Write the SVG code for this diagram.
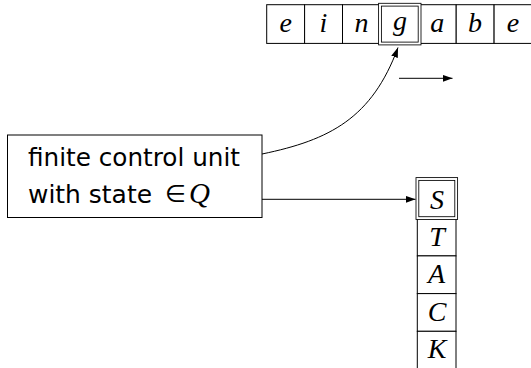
<svg xmlns="http://www.w3.org/2000/svg" width="531" height="368" viewBox="0 0 531 368">
<style>
.cell{fill:#fff;stroke:#000;stroke-width:1}
.dbl{fill:none;stroke:#000;stroke-width:0.85}
.sym{font-family:"Liberation Serif","DejaVu Serif",serif;font-style:italic;font-size:28px;text-anchor:middle;fill:#000}
.lbl{font-family:"DejaVu Sans","Liberation Sans",sans-serif;font-size:24px;fill:#000}
.conn{fill:none;stroke:#000;stroke-width:1}
</style>
<defs>
<marker id="arr" markerUnits="userSpaceOnUse" markerWidth="12" markerHeight="10" refX="10" refY="3.5" orient="auto">
<path d="M0,0 L10,3.5 L0,7 Z" fill="#000"/>
</marker>
</defs>
<rect width="531" height="368" fill="#fff"/>
<g id="tape">
<g id="tape-e1"><rect class="cell" x="266.7" y="4.7" width="37.9" height="38.7"/><text class="sym" x="285.6" y="32">e</text></g>
<g id="tape-i"><rect class="cell" x="304.6" y="4.7" width="37.9" height="38.7"/><text class="sym" x="323.5" y="32">i</text></g>
<g id="tape-n"><rect class="cell" x="342.5" y="4.7" width="37.9" height="38.7"/><text class="sym" x="361.4" y="32">n</text></g>
<g id="tape-a"><rect class="cell" x="418.3" y="4.7" width="37.9" height="38.7"/><text class="sym" x="437.2" y="32">a</text></g>
<g id="tape-b"><rect class="cell" x="456.2" y="4.7" width="37.9" height="38.7"/><text class="sym" x="475.1" y="32">b</text></g>
<g id="tape-e2"><rect class="cell" x="494.1" y="4.7" width="40" height="38.7"/><text class="sym" x="513" y="32">e</text></g>
<g id="tape-g">
<rect x="378.6" y="3.3" width="42.4" height="41.6" fill="#fff" stroke="#000" stroke-width="0.85"/>
<rect class="dbl" x="381.4" y="6.1" width="36.8" height="36"/>
<text class="sym" x="400" y="30">g</text>
</g>
</g>
<g id="stack">
<g id="stack-T"><rect class="cell" x="417.3" y="218.2" width="38.7" height="37.7"/><text class="sym" x="437" y="246">T</text></g>
<g id="stack-A"><rect class="cell" x="417.3" y="255.9" width="38.7" height="37.7"/><text class="sym" x="436.6" y="283">A</text></g>
<g id="stack-C"><rect class="cell" x="417.3" y="293.6" width="38.7" height="37.7"/><text class="sym" x="437" y="321">C</text></g>
<g id="stack-K"><rect class="cell" x="417.3" y="331.3" width="38.7" height="40"/><text class="sym" x="437" y="358">K</text></g>
<g id="stack-S">
<rect x="416" y="177.6" width="41.6" height="41.9" fill="#fff" stroke="#000" stroke-width="0.85"/>
<rect class="dbl" x="418.8" y="180.4" width="36" height="36.3"/>
<text class="sym" x="437" y="208.5">S</text>
</g>
</g>
<g id="control">
<rect class="cell" x="7.5" y="135" width="254.5" height="82.5"/>
<text class="lbl" x="28" y="166" textLength="212" lengthAdjust="spacingAndGlyphs">finite control unit</text>
<text class="lbl" x="28" y="203" textLength="124" lengthAdjust="spacingAndGlyphs">with state</text>
<text x="165" y="202" style="font-family:'DejaVu Sans','Liberation Sans',sans-serif;font-size:24px">∈</text>
<text x="189" y="203" style="font-family:'Liberation Serif','DejaVu Serif',serif;font-style:italic;font-size:29px">Q</text>
</g>
<g id="connectors">
<path class="conn" d="M262,154 C330,140 372,118 398,47.5" marker-end="url(#arr)"/>
<path class="conn" d="M262,199.3 H415.5" marker-end="url(#arr)"/>
<path class="conn" d="M399,78.3 H452.5" marker-end="url(#arr)"/>
</g>
</svg>
